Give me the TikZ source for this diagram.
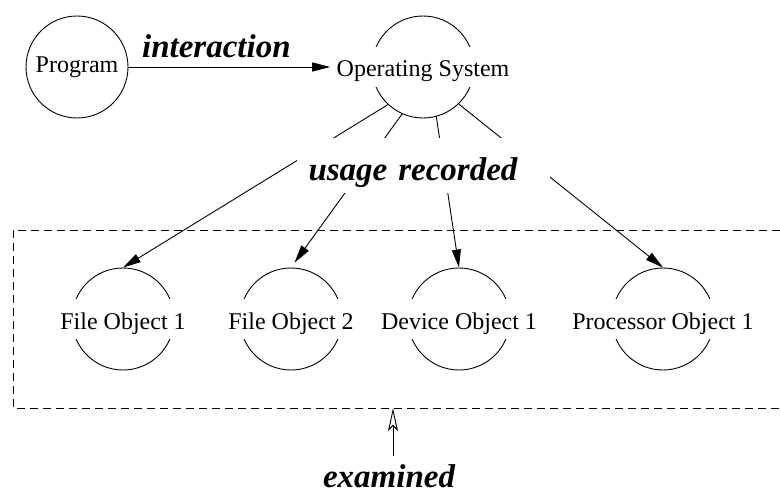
\documentclass[tikz,border=0pt]{standalone}
\usepackage{fontspec}
\setmainfont{Liberation Serif}
\usetikzlibrary{arrows.meta}

\begin{document}
\begin{tikzpicture}[
  x=1pt, y=-1pt,
  every node/.style={font=\fontsize{24}{28}\selectfont},
  ring/.style ={circle, draw, minimum size=102pt, inner sep=0pt},
  tag/.style  ={fill=white, inner xsep=6pt, inner ysep=8pt, text height=22pt, text depth=2pt},
  cue/.style  ={font=\fontsize{33}{38}\selectfont\bfseries\itshape, inner sep=2pt},
  line width=0.9pt, >={Triangle[length=18pt, width=9pt]}
]
\useasboundingbox (0,0) rectangle (780,495);

\node[ring] (prog)  at (77,67)  {Program};
\node[ring] (c-os)  at (423,67) {};
\node[tag]  (os)    at (c-os)   {Operating System};

\node[ring] (c-fo1) at (123,319) {};
\node[ring] (c-fo2) at (291,319) {};
\node[ring] (c-dev) at (459,319) {};
\node[ring] (c-cpu) at (663,319) {};
\node[tag]  (fo1) at (c-fo1) {File Object 1};
\node[tag]  (fo2) at (c-fo2) {File Object 2};
\node[tag]  (dev) at (c-dev) {Device Object 1};
\node[tag]  (cpu) at (c-cpu) {Processor Object 1};

% examined region, open on the right
\draw[dash pattern=on 8pt off 5pt] (780,230) -- (13,230) -- (13,408) -- (780,408);
\coordinate (hook) at (393,408);

\draw[->] (prog) -- (os)
  node[cue, midway, anchor=base, xshift=-13pt, yshift=9pt] (inter) {interaction};

\foreach \a/\o/\s in {227/fo1/0pt, 246/fo2/6pt, 285/dev/0pt, 314/cpu/0pt}{
  \draw[->, shorten >=\s] (c-os.\a) -- (c-\o.north);
}

\node[cue, fill=white, text width=229pt, align=left, inner xsep=12pt, inner ysep=0pt,
  text height=42pt, text depth=13pt] (usage) at (423,165.5) {usage recorded};

\node[cue, inner ysep=8pt] (exam) at (389,476) {examined};
\draw[-{Stealth[open, length=23pt, width=10pt, inset=5pt]}] (exam.north -| hook) -- (hook);

\end{tikzpicture}
\end{document}
